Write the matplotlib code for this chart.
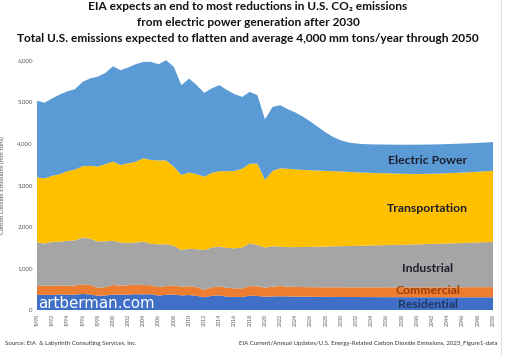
import matplotlib
matplotlib.use("Agg")
import matplotlib.pyplot as plt
from matplotlib.lines import Line2D
import numpy as np

years = list(range(1990, 2051))

residential = [360, 365, 360, 375, 365, 370, 385, 375, 340, 350,
               370, 365, 370, 380, 375, 380, 345, 365, 370, 350,
               360, 340, 305, 340, 350, 320, 315, 310, 345, 335,
               320, 325, 330,
               325, 322, 320, 318, 316, 315, 314, 313, 312, 311,
               310, 310, 309, 309, 308, 308, 307, 307, 307, 306,
               306, 306, 305, 305, 305, 305, 305, 305]
commercial = [215, 220, 225, 215, 215, 220, 230, 225, 190, 200,
              230, 220, 225, 225, 225, 215, 205, 210, 215, 210,
              210, 210, 180, 205, 215, 215, 205, 210, 230, 235,
              215, 235, 245,
              235, 233, 230, 230, 230, 230,
              231, 232, 232, 233, 234, 234, 235, 236, 236, 237, 238,
              238, 239, 240, 240, 241, 242, 242, 243, 244, 244, 245]
industrial = [1045, 1010, 1050, 1050, 1080, 1080, 1125, 1110, 1115, 1100,
              1060, 1035, 1015, 1015, 1040, 995, 1025, 1005, 955, 880,
              900, 910, 955, 955, 955, 955, 960, 980, 1025, 990,
              965, 970, 945,
              950, 955, 962, 968, 973, 978, 983, 988, 992, 996,
              1000, 1004, 1008, 1012, 1016, 1020, 1025, 1030, 1035, 1040,
              1045, 1050, 1055, 1060, 1066, 1072, 1078, 1085]
transportation = [1560, 1565, 1585, 1620, 1670, 1700, 1710, 1750, 1795, 1850,
                  1900, 1860, 1910, 1940, 2000, 2010, 2015, 2010, 1900, 1800,
                  1830, 1800, 1760, 1790, 1810, 1840, 1860, 1890, 1910, 1955,
                  1620, 1810, 1880,
                  1880, 1865, 1850, 1838, 1826, 1815, 1803, 1792, 1778, 1765,
                  1752, 1742, 1733, 1725, 1715, 1706, 1697, 1688, 1684, 1683,
                  1684, 1686, 1688, 1691, 1694, 1697, 1701, 1705]
electric_power = [1840, 1815, 1860, 1910, 1920, 1930, 2025, 2100, 2160, 2190,
                  2290, 2275, 2300, 2340, 2315, 2355, 2310, 2405, 2395, 2155,
                  2255, 2140, 2010, 2030, 2065, 1950, 1840, 1725, 1725, 1640,
                  1455, 1535, 1515,
                  1430, 1365, 1278, 1166, 1045, 922, 819, 745, 706, 690,
                  686, 686, 687, 688, 693, 696, 700, 705, 705, 704,
                  702, 699, 698, 697, 694, 692, 692, 690]

series_names = ["Residential", "Commercial", "Industrial", "Transportation", "Electric Power"]
series_colors = ["#3F6FC6", "#ED7D31", "#A5A5A5", "#FFC000", "#5B9BD5"]
label_colors = ["#1F3864", "#9C3F0C", "#1E1E2E", "#1E1E2E", "#1E1E2E"]
label_years = [2041.4, 2041.4, 2041.4, 2041.4, 2041.4]
label_values = [144, 456, 1008, 2424, 3576]

ytick_vals = [0, 1000, 2000, 3000, 4000, 5000, 6000]
xtick_vals = list(range(1990, 2051, 2))

plt.rcParams['font.family'] = ['Lato', 'DejaVu Sans']

W, H = 507, 355
fig = plt.figure(figsize=(W / 100, H / 100), dpi=100)
fig.patch.set_facecolor("white")
ax = fig.add_axes([37 / W, 1 - 310 / H, (493 - 37) / W, (310 - 60) / H])

ax.stackplot(years, residential, commercial, industrial, transportation, electric_power,
             colors=series_colors, linewidth=0)
ax.set_xlim(1990, 2050)
ax.set_ylim(0, 6000)

for s in ax.spines.values():
    s.set_visible(False)
ax.set_yticks(ytick_vals)
ax.set_yticklabels([f"{v:,}" for v in ytick_vals], fontsize=4.4, color="#595959")
ax.set_xticks(xtick_vals)
ax.set_xticklabels([str(v) for v in xtick_vals], fontsize=3.8, color="#595959", rotation=90)
ax.tick_params(length=0, pad=3)
ax.set_ylabel("Carbon Dioxide Emissions (mm tons)", fontsize=4.4, color="#595959", labelpad=9)

for name, col, lx, lv in zip(series_names, label_colors, label_years, label_values):
    ax.text(lx, lv, name, ha="center", va="center", fontsize=8.8, fontweight="bold", color=col)

ax.text(1990.15, 160, "artberman.com", ha="left", va="center", fontsize=10.8,
        color="white", family=["DejaVu Sans"])

fig.text(248 / W, 1 - 7 / H, "EIA expects an end to most reductions in U.S. CO₂ emissions",
         ha="center", va="center", fontsize=8.6, fontweight="bold", color="#111111")
fig.text(248 / W, 1 - 23 / H, "from electric power generation after 2030",
         ha="center", va="center", fontsize=8.6, fontweight="bold", color="#111111")
fig.text(248 / W, 1 - 39 / H,
         "Total U.S. emissions expected to flatten and average 4,000 mm tons/year through 2050",
         ha="center", va="center", fontsize=8.6, fontweight="bold", color="#111111")

fig.text(5 / W, 1 - 343 / H, "Source: EIA  & Labyrinth Consulting Services, Inc.",
         ha="left", va="center", fontsize=4.4, color="#333333")
fig.text(497 / W, 1 - 343 / H,
         "EIA Current/Annual Updates/U.S. Energy-Related Carbon Dioxide Emissions, 2023_Figure1-data",
         ha="right", va="center", fontsize=4.4, color="#333333")

fig.add_artist(Line2D([501 / W, 501 / W], [0, 1], color="#DDDDDD", linewidth=0.8))

fig.savefig("out.png", dpi=100)
